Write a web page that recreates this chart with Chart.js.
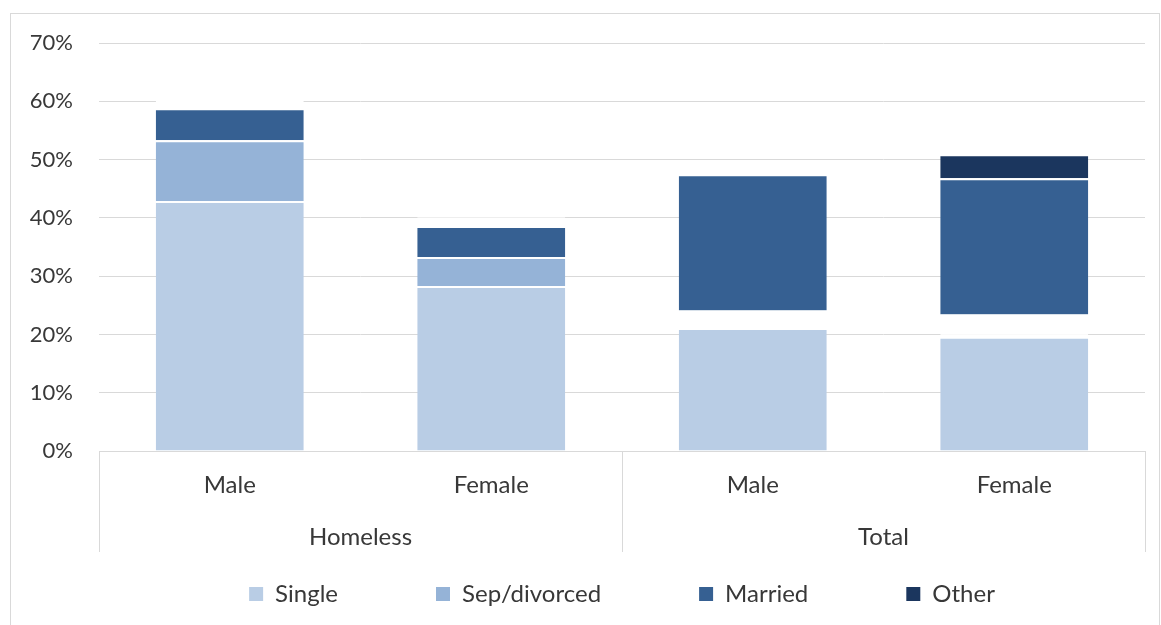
<!DOCTYPE html>
<html>
<head>
<meta charset="utf-8">
<title>Marital status</title>
<script src="https://cdn.jsdelivr.net/npm/chart.js@4.4.1/dist/chart.umd.min.js"></script>
<style>
  html, body { margin: 0; padding: 0; background: #fff; }
  #wrap {
    position: absolute; left: 10px; top: 13px;
    width: 1150px; height: 620px;
    border: 1px solid #d9d9d9; box-sizing: border-box;
  }
</style>
</head>
<body>
<div id="wrap"><canvas id="chart"></canvas></div>
<script>
// data (percent)
var groups = ['Homeless', 'Total'];
var categories = ['Male', 'Female', 'Male', 'Female'];
var seriesNames = ['Single', 'Sep/divorced', 'Married', 'Other'];
var single      = [42.9, 28.3, 21.1, 19.6];
var sepDivorced = [10.4,  5.0,  3.0,  3.8];
var married     = [ 5.5,  5.3, 23.4, 23.4];
var other       = [ 1.3,  1.5,  0.0,  4.1];
var yTicks = [0, 10, 20, 30, 40, 50, 60, 70];

var seriesColors = ['#b9cde5', '#95b3d7', '#366092', '#1b365e'];
var textColor = '#383838';
var gridColor = '#d9d9d9';
Chart.defaults.font.family = 'Lato';
Chart.defaults.font.size = 24;
Chart.defaults.color = textColor;

// some segments are filled white in the original (blank slots)
function segColor(base, whiteAt) {
  return function (ctx) {
    if (ctx.type === 'data' && whiteAt.indexOf(ctx.dataIndex) >= 0) return 'rgba(255,255,255,0.85)';
    return base;
  };
}

function mkSet(i, data, whiteAt) {
  return {
    label: seriesNames[i],
    data: data,
    backgroundColor: segColor(seriesColors[i], whiteAt),
    borderColor: '#ffffff',
    borderWidth: { top: 2, left: 0, right: 0, bottom: 0 },
    categoryPercentage: 1,
    barPercentage: 0.566
  };
}

// vertical separators under the category axis
var groupLines = {
  id: 'groupLines',
  afterDraw: function (chart) {
    var x = chart.scales.x, c = chart.ctx;
    var w = x.width / categories.length;
    c.save();
    c.strokeStyle = gridColor;
    c.lineWidth = 1;
    [0, 2, 4].forEach(function (i) {
      var px = Math.round(x.left + i * w) + 0.5;
      c.beginPath();
      c.moveTo(px, x.top);
      c.lineTo(px, x.top + 101);
      c.stroke();
    });
    c.restore();
  }
};

var pad = '              ';

chart = new Chart(document.getElementById('chart'), {
  type: 'bar',
  data: {
    labels: categories,
    datasets: [
      mkSet(0, single, []),
      mkSet(1, sepDivorced, [2, 3]),
      mkSet(2, married, []),
      mkSet(3, other, [0, 1])
    ]
  },
  options: {
    responsive: true,
    maintainAspectRatio: false,
    animation: false,
    layout: { padding: { left: 11, right: 14, top: 29, bottom: 16 } },
    scales: {
      y: {
        stacked: true,
        min: 0, max: 70,
        afterFit: function (s) { s.width = 77; },
        afterBuildTicks: function (s) { s.ticks = yTicks.map(function (v) { return { value: v }; }); },
        ticks: { padding: 0, font: { size: 22 }, callback: function (v) { return v + '%'; } },
        grid: { color: gridColor, drawTicks: true, tickLength: 26, tickColor: 'rgba(0,0,0,0)' },
        border: { display: false }
      },
      x: {
        stacked: true,
        afterFit: function (s) { s.height = 52; },
        ticks: { padding: 12 },
        grid: { display: false },
        border: { display: true, color: gridColor }
      },
      x2: {
        type: 'category',
        labels: groups,
        offset: true,
        position: 'bottom',
        afterFit: function (s) { s.height = 67; },
        ticks: { padding: 12 },
        grid: { display: false },
        border: { display: false }
      }
    },
    plugins: {
      tooltip: { enabled: false },
      legend: {
        position: 'bottom',
        fullSize: false,
        labels: {
          boxWidth: 14,
          boxHeight: 14,
          padding: 12,
          generateLabels: function (chart) {
            var items = Chart.defaults.plugins.legend.labels.generateLabels(chart);
            items.forEach(function (it, i) {
              it.fillStyle = seriesColors[i];
              it.strokeStyle = seriesColors[i];
              it.lineWidth = 0;
              if (i < items.length - 1) it.text = it.text + pad;
            });
            return items;
          }
        }
      }
    }
  },
  plugins: [groupLines]
});
</script>
</body>
</html>
